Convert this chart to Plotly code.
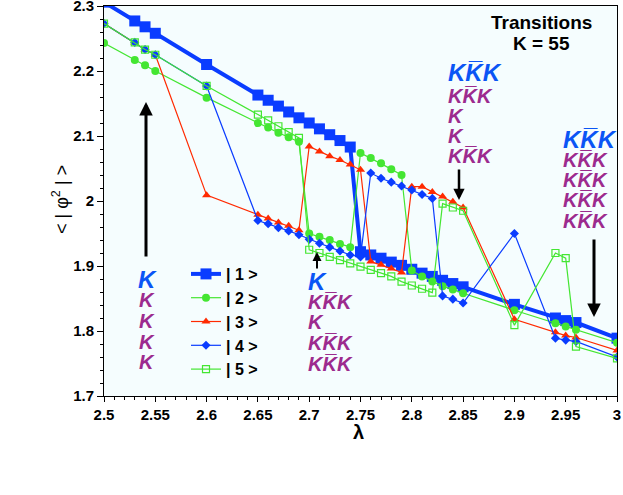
import plotly.graph_objects as go

# ---------------- data ----------------
lam = [2.50, 2.53, 2.54, 2.55, 2.60, 2.65, 2.66, 2.67, 2.68, 2.69, 2.70,
       2.71, 2.72, 2.73, 2.74, 2.75, 2.76, 2.77, 2.78, 2.79, 2.80, 2.81,
       2.82, 2.83, 2.84, 2.85, 2.90, 2.94, 2.95, 2.96, 3.00]

state1 = [2.306, 2.277, 2.268, 2.258, 2.210, 2.163, 2.155, 2.146, 2.137, 2.128, 2.120,
          2.111, 2.102, 2.093, 2.083, 1.922, 1.917, 1.912, 1.906, 1.901, 1.895, 1.889,
          1.884, 1.878, 1.873, 1.868, 1.841, 1.820, 1.816, 1.813, 1.789]
state2 = [2.243, 2.217, 2.209, 2.200, 2.159, 2.120, 2.113, 2.105, 2.098, 2.091, 1.950,
          1.945, 1.940, 1.934, 1.929, 2.074, 2.066, 2.058, 2.049, 2.040, 1.893, 1.884,
          1.876, 1.869, 1.864, 1.858, 1.832, 1.812, 1.807, 1.802, 1.782]
state3 = [2.273, 2.244, 2.233, 2.225, 2.009, 1.979, 1.973, 1.967, 1.962, 1.955, 2.084,
          2.076, 2.069, 2.063, 2.056, 2.048, 1.907, 1.902, 1.896, 1.890, 2.022, 2.022,
          2.014, 2.007, 1.999, 1.990, 1.818, 1.798, 1.793, 1.790, 1.770]
state4 = [2.273, 2.244, 2.233, 2.225, 2.177, 1.970, 1.965, 1.959, 1.954, 1.948, 1.941,
          1.935, 1.929, 1.923, 1.917, 1.914, 2.043, 2.035, 2.029, 2.023, 2.017, 2.010,
          2.004, 1.854, 1.849, 1.843, 1.950, 1.789, 1.786, 1.784, 1.760]
state5 = [2.273, 2.244, 2.233, 2.225, 2.177, 2.133, 2.124, 2.115, 2.106, 2.097, 1.925,
          1.920, 1.914, 1.909, 1.904, 1.899, 1.894, 1.889, 1.884, 1.876, 1.870, 1.865,
          1.859, 1.996, 1.990, 1.985, 1.809, 1.920, 1.912, 1.776, 1.758]

series_names = ["| 1 >", "| 2 >", "| 3 >", "| 4 >", "| 5 >"]

x_tickvals = [2.5, 2.55, 2.6, 2.65, 2.7, 2.75, 2.8, 2.85, 2.9, 2.95, 3.0]
x_ticktext = ["2.5", "2.55", "2.6", "2.65", "2.7", "2.75", "2.8", "2.85", "2.9", "2.95", "3"]
y_tickvals = [1.7, 1.8, 1.9, 2.0, 2.1, 2.2, 2.3]
y_ticktext = ["1.7", "1.8", "1.9", "2", "2.1", "2.2", "2.3"]

KB = "K\u0305"  # K with overline
col_left = ["K", "K", "K", "K", "K"]
col_mid = ["K", "K" + KB + "K", "K", "K" + KB + "K", "K" + KB + "K"]
col_285 = ["K" + KB + "K", "K" + KB + "K", "K", "K", "K" + KB + "K"]
col_right = ["K" + KB + "K"] * 5

# ---------------- style ----------------
BLUE = "#0a3cff"
GREEN = "#44e632"
RED = "#ff2a00"
KBLUE = "#0a55f5"
KPURP = "#9c2b8e"

W, H = 623, 495
L, R, T, B = 104, 6, 6, 99
PW, PH = W - L - R, H - T - B


def px2paper(px, py):
    return (px - L) / PW, (H - B - py) / PH


fig = go.Figure()
styles = [
    dict(color=BLUE, width=4, symbol="square", msize=11, mline=0, mfill=BLUE),
    dict(color=GREEN, width=1.2, symbol="circle", msize=8, mline=0, mfill=GREEN),
    dict(color=RED, width=1.2, symbol="triangle-up", msize=8, mline=0, mfill=RED),
    dict(color=BLUE, width=1.2, symbol="diamond", msize=7, mline=0, mfill=BLUE),
    dict(color=GREEN, width=1.2, symbol="square-open", msize=7, mline=1.2, mfill=GREEN),
]
for name, ys, st in zip(series_names, [state1, state2, state3, state4, state5], styles):
    fig.add_trace(go.Scatter(
        x=lam, y=ys, name=name, mode="lines+markers",
        line=dict(color=st["color"], width=st["width"]),
        marker=dict(symbol=st["symbol"], size=st["msize"], color=st["mfill"],
                    line=dict(width=st["mline"], color=st["color"])),
        cliponaxis=True,
    ))

ann = []
FONT = "Liberation Sans, Arial, Helvetica, sans-serif"


def kcol(texts, px, ys, anchor, sizes):
    for i, (t, py) in enumerate(zip(texts, ys)):
        x, y = px2paper(px, py)
        ann.append(dict(xref="paper", yref="paper", x=x, y=y, text=t, showarrow=False,
                        xanchor=anchor, yanchor="middle",
                        font=dict(family=FONT, size=sizes[0] if i == 0 else sizes[1],
                                  color=KBLUE if i == 0 else KPURP,
                                  weight="bold", style="italic")))


kcol(col_left, 147, [279, 300, 321, 342, 362], "center", (24, 20))
kcol(col_mid, 306, [281, 302, 322, 343, 364], "left", (24, 20))
kcol(col_285, 446, [73, 96, 116, 136, 156], "left", (24, 20))
kcol(col_right, 561, [139, 160, 180, 200, 221], "left", (24, 20))


def arrow(px, py_head, py_tail, width):
    x, y = px2paper(px, py_head)
    ann.append(dict(xref="paper", yref="paper", x=x, y=y, ax=0, ay=py_tail - py_head,
                    text="", showarrow=True, arrowhead=2, arrowsize=0.9,
                    arrowwidth=width, arrowcolor="black"))


arrow(146, 102, 258, 3)
arrow(317, 252, 270, 2)
arrow(459, 200, 168, 2.5)
arrow(594, 317, 238, 3)

for txt, py in [("<b>Transitions</b>", 23), ("<b>K = 55</b>", 44)]:
    x, y = px2paper(541, py)
    ann.append(dict(xref="paper", yref="paper", x=x, y=y, text=txt, showarrow=False,
                    xanchor="center", yanchor="middle",
                    font=dict(family=FONT, size=19, color="black")))

# axis titles
x, y = px2paper(60, 200)
ann.append(dict(xref="paper", yref="paper", x=x, y=y, text="< | φ<sup>2</sup> | >",
                showarrow=False, textangle=-90, xanchor="center", yanchor="middle",
                font=dict(family=FONT, size=18, color="black")))
x, y = px2paper(358, 432)
ann.append(dict(xref="paper", yref="paper", x=x, y=y, text="<b>λ</b>",
                showarrow=False, xanchor="center", yanchor="middle",
                font=dict(family=FONT, size=20, color="black")))

fig.update_layout(
    width=W, height=H,
    margin=dict(l=L, r=R, t=T, b=B, autoexpand=False),
    paper_bgcolor="white",
    plot_bgcolor="#f5fdfe",
    font=dict(family=FONT, color="black"),
    showlegend=True,
    legend=dict(x=(186 - L) / PW, y=(H - B - 257) / PH, xanchor="left", yanchor="top",
                bgcolor="rgba(0,0,0,0)", font=dict(size=16, weight="bold"),
                tracegroupgap=0),
    annotations=ann,
    xaxis=dict(range=[2.5, 3.0], tickmode="array", tickvals=x_tickvals, ticktext=x_ticktext,
               automargin=False, ticklabeloverflow="allow",
               ticks="outside", ticklen=5, tickwidth=1, tickcolor="black",
               showline=True, linecolor="black", linewidth=1, mirror=True,
               showgrid=False, zeroline=False,
               tickfont=dict(size=15, weight="bold"),
               minor=dict(tickmode="linear", tick0=2.5, dtick=0.01, ticks="outside",
                          ticklen=3, tickcolor="black", showgrid=False)),
    yaxis=dict(range=[1.7, 2.3], tickmode="array", tickvals=y_tickvals, ticktext=y_ticktext,
               automargin=False, ticklabeloverflow="allow",
               ticks="outside", ticklen=6, tickwidth=1, tickcolor="black",
               showline=True, linecolor="black", linewidth=1, mirror=True,
               showgrid=False, zeroline=False,
               tickfont=dict(size=15, weight="bold"),
               minor=dict(tickmode="linear", tick0=1.7, dtick=0.02, ticks="outside",
                          ticklen=3, tickcolor="black", showgrid=False)),
)

fig.write_html("out.html", config={"displayModeBar": False},
               post_script="document.body.style.margin='0';document.body.style.overflow='hidden';")
